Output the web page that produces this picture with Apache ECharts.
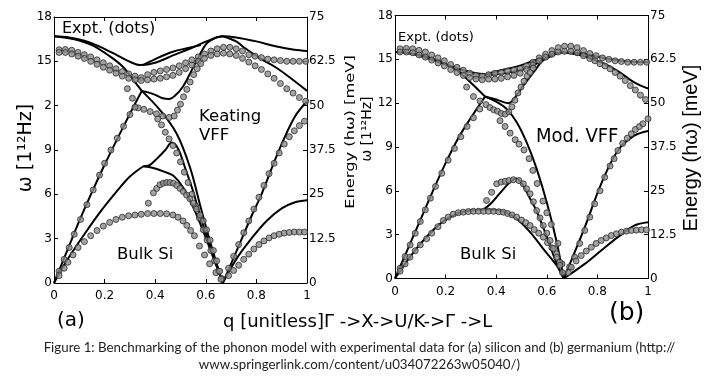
<!DOCTYPE html>
<html><head><meta charset="utf-8">
<script src="https://cdn.jsdelivr.net/npm/echarts/dist/echarts.min.js"></script>
<style>html,body{margin:0;padding:0;background:#fff}#c{width:719px;height:380px}</style>
</head><body><div id="c"></div>
<script>
// ---------- tick labels ----------
const qTicks = ['0','0.2','0.4','0.6','0.8','1'];
const wTicksA = ['0','3','6','9','2','15','18'];
const wTicksB = ['0','3','6','9','12','15','18'];
const eTicks = ['0','12.5','25','37.5','50','62.5','75'];

// ---------- (a) Silicon, Keating VFF model lines [q, omega THz] ----------
const siLineTO1 = [[0,16.7],[0.06,16.62],[0.12,16.4],[0.18,16.0],[0.24,15.5],[0.29,15.05],[0.34,14.75],[0.4,14.9],[0.47,15.4],[0.55,15.95],[0.61,16.4],[0.667,16.7],[0.72,16.62],[0.8,16.35],[0.88,16.0],[0.95,15.78],[1,15.7]];
const siLineTO2 = [[0.35,14.72],[0.4,15.15],[0.47,15.65],[0.53,15.9],[0.58,16.1]];
const siLineLO1 = [[0,16.7],[0.08,16.5],[0.15,16.1],[0.22,15.35],[0.274,14.6],[0.313,13.75],[0.347,13.0]];
const siLineLO2 = [[0.347,13.0],[0.39,12.8],[0.43,12.5],[0.455,12.45],[0.48,12.7],[0.51,13.3],[0.537,14.15],[0.564,15.05],[0.603,16.2],[0.64,16.6],[0.667,16.7]];
const siLineLA1 = [[0,0],[0.05,2.1],[0.1,4.2],[0.15,6.15],[0.2,8.0],[0.25,9.75],[0.3,11.45],[0.347,13.0]];
const siLineLA2 = [[0.347,13.0],[0.419,11.7],[0.485,10.1],[0.538,7.8],[0.577,5.3],[0.617,2.8],[0.645,1.2],[0.667,0]];
const siLineTA1 = [[0,0],[0.05,1.5],[0.116,3.2],[0.18,4.75],[0.248,6.2],[0.3,7.2],[0.353,7.9]];
const siLineTA2 = [[0.353,7.9],[0.375,7.95],[0.406,8.4],[0.44,9.0],[0.465,9.5],[0.49,9.1],[0.52,7.7],[0.55,6.2],[0.58,4.4],[0.62,2.4],[0.667,0]];
const siLineTA3 = [[0.353,7.9],[0.4,7.75],[0.44,7.5],[0.472,7.25],[0.511,6.45],[0.551,5.1],[0.59,3.5],[0.63,1.7],[0.667,0]];
const siLineL_LO = [[0.667,16.7],[0.72,16.35],[0.754,15.9],[0.82,15.15],[0.885,14.5],[0.94,13.8],[1,13.0]];
const siLineL_LA = [[0.667,0],[0.72,2.1],[0.78,4.5],[0.82,6.0],[0.885,8.8],[0.95,11.2],[1,12.3]];
const siLineL_TA = [[0.667,0],[0.72,1.6],[0.78,3.0],[0.84,4.2],[0.9,5.05],[0.95,5.45],[1,5.6]];

// ---------- (a) Silicon experimental dots ----------
const siDotsTO1 = [[0.02,15.78],[0.045,15.8],[0.07,15.75],[0.095,15.6],[0.12,15.45],[0.145,15.3],[0.17,15.1],[0.195,14.9],[0.22,14.7],[0.245,14.5],[0.27,14.3],[0.295,14.15],[0.32,14.0],[0.345,13.9],
  [0.37,14.1],[0.395,14.25],[0.42,14.35],[0.445,14.45],[0.47,14.55],[0.495,14.7],[0.52,14.9],[0.545,15.1],[0.57,15.3],[0.595,15.5],[0.62,15.7],[0.645,15.85],[0.67,15.95],[0.695,15.95],[0.72,15.85],[0.745,15.7],
  [0.77,15.45],[0.795,15.35],[0.82,15.25],[0.845,15.15],[0.87,15.1],[0.895,15.05],[0.92,15.0],[0.945,15.0],[0.97,15.0],[0.995,15.0]];
const siDotsTO2 = [[0.02,15.6],[0.045,15.6],[0.07,15.5],[0.095,15.35],[0.12,15.2],[0.145,15.0],[0.17,14.8],[0.195,14.6],[0.22,14.4],[0.245,14.2],[0.27,14.0],[0.295,13.85],[0.32,13.75],[0.345,13.7],
  [0.37,13.75],[0.395,13.8],[0.42,13.85],[0.445,13.95],[0.47,14.05],[0.495,14.25],[0.52,14.5],[0.545,14.75],[0.57,15.0],[0.595,15.2],[0.62,15.4],[0.645,15.5],[0.67,15.55],[0.695,15.5],[0.72,15.4],
  [0.745,15.2],[0.77,14.95],[0.795,14.7],[0.82,14.45],[0.845,14.15],[0.87,13.85],[0.895,13.5],[0.92,13.15],[0.945,12.85],[0.97,12.55],[0.995,12.3]];
const siDotsLO = [[0.29,13.15],[0.31,12.5],[0.333,11.85],[0.355,11.75],[0.38,11.6],[0.405,11.45],[0.43,11.3],[0.455,11.2],[0.475,11.3],[0.488,11.7],[0.5,12.1],[0.512,12.6],[0.525,13.1],[0.538,13.6],[0.552,14.1],[0.566,14.5],[0.58,14.85]];
const siDotsLA1 = [[0.02,0.8],[0.04,1.6],[0.06,2.4],[0.08,3.3],[0.105,4.3],[0.13,5.3],[0.155,6.3],[0.18,7.3],[0.2,8.1],[0.225,9.0],[0.25,9.8],[0.275,10.6],[0.3,11.4],[0.32,11.9]];
const siDotsLA2 = [[0.41,11.1],[0.425,10.7],[0.44,10.2],[0.455,9.75],[0.47,9.3],[0.485,8.8],[0.5,8.2],[0.515,7.5],[0.53,6.8],[0.545,6.0],[0.56,5.2],[0.575,4.4],[0.59,3.6],[0.605,2.9],[0.62,2.2],[0.635,1.5],[0.65,0.8],[0.663,0.3]];
const siDotsTA1 = [[0.02,0.5],[0.04,1.0],[0.055,1.4],[0.075,1.9],[0.095,2.4],[0.12,2.8],[0.145,3.2],[0.17,3.55],[0.195,3.85],[0.22,4.1],[0.245,4.3],[0.27,4.45],[0.295,4.55],[0.32,4.6],[0.345,4.65],[0.37,4.7],[0.395,4.7],[0.42,4.7],[0.445,4.68],[0.47,4.6],[0.49,4.45],[0.51,4.2],[0.525,3.9],[0.54,3.55],[0.555,3.2],[0.575,2.5],[0.595,1.9],[0.615,1.3],[0.64,0.7],[0.66,0.25]];
const siDotsTA2 = [[0.373,5.4],[0.393,6.1],[0.406,6.4],[0.419,6.65],[0.432,6.75],[0.445,6.8],[0.458,6.8],[0.472,6.75],[0.485,6.6],[0.498,6.4],[0.511,6.2],[0.524,5.95],[0.537,5.7],[0.55,5.4],[0.563,5.0],[0.577,4.6],[0.59,4.2],[0.603,3.6],[0.617,2.9],[0.63,2.2],[0.643,1.5],[0.655,0.8]];
const siDotsL_LA = [[0.69,1.0],[0.71,1.8],[0.73,2.6],[0.75,3.4],[0.77,4.2],[0.79,5.0],[0.81,5.8],[0.83,6.6],[0.85,7.4],[0.87,8.1],[0.89,8.8],[0.91,9.4],[0.93,9.9],[0.95,10.3],[0.97,10.65],[0.99,10.95]];
const siDotsL_TA = [[0.69,0.5],[0.71,0.85],[0.73,1.2],[0.75,1.6],[0.77,1.95],[0.79,2.3],[0.81,2.6],[0.83,2.85],[0.85,3.05],[0.87,3.2],[0.89,3.3],[0.91,3.38],[0.93,3.42],[0.95,3.45],[0.97,3.45],[0.99,3.45]];

// ---------- (b) Germanium, modified VFF model lines ----------
const geLineTO1 = [[0,15.5],[0.06,15.4],[0.125,15.1],[0.2,14.65],[0.26,14.3],[0.32,14.05],[0.38,13.95],[0.45,14.1],[0.52,14.4],[0.58,14.9],[0.626,15.3],[0.667,15.48],[0.72,15.45],[0.784,15.25],[0.85,15.0],[0.92,14.85],[1,14.8]];
const geLineTO2 = [[0.36,14.0],[0.42,14.25],[0.48,14.5],[0.54,14.85],[0.6,15.2],[0.64,15.4]];
const geLineLO1 = [[0,15.5],[0.1,15.3],[0.18,14.85],[0.244,14.25],[0.3,13.4],[0.356,12.45]];
const geLineLO2 = [[0.356,12.45],[0.4,12.25],[0.448,12.0],[0.475,12.4],[0.507,13.2],[0.547,14.1],[0.586,14.95],[0.625,15.35],[0.667,15.48]];
const geLineLA1 = [[0,0],[0.05,2.0],[0.1,4.0],[0.15,6.0],[0.2,7.9],[0.25,9.6],[0.3,11.0],[0.356,12.45]];
const geLineLA2 = [[0.356,12.45],[0.4,12.1],[0.441,11.6],[0.481,10.7],[0.52,9.33],[0.56,7.5],[0.6,5.2],[0.639,2.5],[0.667,0]];
const geLineTA1 = [[0,0],[0.059,1.46],[0.112,2.6],[0.178,3.74],[0.244,4.43],[0.31,4.68],[0.36,4.72],[0.415,4.65],[0.481,4.08],[0.534,3.17],[0.586,2.03],[0.639,0.89],[0.667,0]];
const geLineTA2 = [[0.35,4.72],[0.38,5.15],[0.42,5.95],[0.455,6.6],[0.478,6.85],[0.5,6.55],[0.53,5.6],[0.56,4.6],[0.6,2.85],[0.635,1.2],[0.667,0]];
const geLineL_LO = [[0.667,15.48],[0.75,15.2],[0.82,14.75],[0.881,14.2],[0.947,13.4],[1,13.0]];
const geLineL_LA = [[0.667,0],[0.75,3.5],[0.815,6.48],[0.881,8.76],[0.947,9.79],[1,10.1]];
const geLineL_TA = [[0.667,0],[0.75,1.0],[0.815,1.92],[0.881,2.83],[0.947,3.63],[1,3.85]];

// ---------- (b) Germanium experimental dots ----------
const geDotsTO1 = [[0.02,15.72],[0.045,15.75],[0.07,15.72],[0.095,15.62],[0.12,15.5],[0.145,15.3],[0.17,15.1],[0.195,14.9],[0.22,14.65],[0.245,14.45],[0.27,14.25],[0.295,14.05],[0.32,13.9],[0.345,13.85],
  [0.37,13.95],[0.395,14.05],[0.42,14.1],[0.445,14.2],[0.47,14.25],[0.495,14.35],[0.52,14.55],[0.545,14.8],[0.57,15.1],[0.595,15.35],[0.62,15.6],[0.645,15.8],[0.67,15.9],[0.695,15.9],[0.72,15.8],[0.745,15.6],
  [0.77,15.4],[0.795,15.25],[0.82,15.1],[0.845,15.0],[0.87,14.9],[0.895,14.85],[0.92,14.8],[0.945,14.8],[0.97,14.8],[0.995,14.8]];
const geDotsTO2 = [[0.02,15.5],[0.045,15.5],[0.07,15.45],[0.095,15.3],[0.12,15.15],[0.145,14.95],[0.17,14.75],[0.195,14.55],[0.22,14.3],[0.245,14.1],[0.27,13.9],[0.295,13.75],[0.32,13.65],[0.345,13.6],
  [0.37,13.65],[0.395,13.65],[0.42,13.7],[0.445,13.8],[0.47,13.9],[0.495,14.05],[0.52,14.3],[0.545,14.6],[0.57,14.9],[0.595,15.15],[0.62,15.35],[0.645,15.5],[0.67,15.55],[0.695,15.55],[0.72,15.45],
  [0.745,15.25],[0.77,15.05],[0.79,14.9],[0.81,14.7],[0.83,14.55],[0.85,14.35],[0.87,14.1],[0.89,13.85],[0.91,13.55],[0.93,13.2],[0.95,12.9],[0.97,12.55],[0.99,12.25]];
const geDotsLO = [[0.283,13.1],[0.31,12.45],[0.336,12.15],[0.36,11.9],[0.375,11.7],[0.39,11.55],[0.405,11.45],[0.42,11.3],[0.435,11.25],[0.45,11.4],[0.462,11.75],[0.474,12.2],[0.486,12.7],[0.498,13.1],[0.51,13.5],[0.522,13.85],[0.534,14.1],[0.546,14.4]];
const geDotsLA1 = [[0.02,0.7],[0.04,1.5],[0.06,2.3],[0.08,3.1],[0.1,3.9],[0.12,4.7],[0.14,5.5],[0.16,6.3],[0.185,7.2],[0.21,8.1],[0.235,8.9],[0.26,9.7],[0.285,10.4],[0.31,11.0],[0.335,11.6]];
const geDotsLA2 = [[0.415,10.8],[0.435,10.4],[0.455,9.95],[0.475,9.5],[0.49,9.2],[0.51,8.8],[0.53,8.2],[0.545,7.4],[0.562,6.5],[0.585,5.3],[0.6,4.5],[0.618,3.7],[0.644,2.4],[0.66,1.0]];
const geDotsTA1 = [[0.02,0.5],[0.04,1.0],[0.059,1.46],[0.08,1.9],[0.1,2.3],[0.125,2.72],[0.145,3.1],[0.17,3.55],[0.191,3.97],[0.21,4.2],[0.23,4.4],[0.25,4.5],[0.27,4.54],[0.29,4.58],[0.31,4.6],[0.33,4.6],[0.35,4.6],[0.37,4.6],[0.39,4.6],[0.41,4.57],[0.428,4.54],[0.445,4.45],[0.463,4.35],[0.481,4.2],[0.5,4.0],[0.517,3.82],[0.534,3.63],[0.55,3.35],[0.568,3.1],[0.586,2.83],[0.603,2.45],[0.62,2.1],[0.639,1.69],[0.652,1.1],[0.662,0.4]];
const geDotsTA2 = [[0.362,5.34],[0.382,5.9],[0.402,6.48],[0.42,6.6],[0.435,6.65],[0.45,6.7],[0.468,6.76],[0.49,6.7],[0.507,6.48],[0.52,6.15],[0.534,5.8],[0.547,5.25],[0.56,4.65],[0.573,4.15],[0.586,3.63],[0.6,3.1],[0.613,2.6],[0.626,2.05],[0.639,1.46],[0.652,0.9]];
const geDotsL_LA = [[0.69,0.8],[0.71,1.46],[0.73,2.4],[0.75,3.29],[0.77,4.2],[0.789,5.11],[0.81,6.0],[0.829,6.93],[0.85,7.7],[0.866,8.2],[0.881,8.76],[0.9,9.25],[0.918,9.6],[0.934,9.9],[0.95,10.2],[0.966,10.4],[0.98,10.59],[1.0,10.93]];
const geDotsL_TA = [[0.685,0.4],[0.697,0.77],[0.716,1.2],[0.736,1.57],[0.756,1.88],[0.776,2.14],[0.795,2.4],[0.815,2.6],[0.835,2.78],[0.855,2.94],[0.875,3.06],[0.895,3.17],[0.915,3.24],[0.934,3.29],[0.954,3.31],[0.974,3.33],[0.994,3.33]];

const siLines = [siLineTO1,siLineTO2,siLineLO1,siLineLO2,siLineLA1,siLineLA2,siLineTA1,siLineTA2,siLineTA3,siLineL_LO,siLineL_LA,siLineL_TA];
const siDots = [siDotsTO1,siDotsTO2,siDotsLO,siDotsLA1,siDotsLA2,siDotsTA1,siDotsTA2,siDotsL_LA,siDotsL_TA];
const geLines = [geLineTO1,geLineTO2,geLineLO1,geLineLO2,geLineLA1,geLineLA2,geLineTA1,geLineTA2,geLineL_LO,geLineL_LA,geLineL_TA];
const geDots = [geDotsTO1,geDotsTO2,geDotsLO,geDotsLA1,geDotsLA2,geDotsTA1,geDotsTA2,geDotsL_LA,geDotsL_TA];

const FONT = 'DejaVu Sans';
function xAx(grid, pos, showLabel) {
  return {type:'value', gridIndex:grid, position:pos, min:0, max:1, interval:0.2,
    axisLine:{show:true,onZero:false,lineStyle:{color:'#000',width:1}},
    axisTick:{show:true,inside:true,length:4,lineStyle:{color:'#000'}},
    axisLabel:{show:showLabel,color:'#000',fontFamily:FONT,fontSize:12,margin:7,
      formatter:(v)=>qTicks[Math.round(v/0.2)]},
    splitLine:{show:false}};
}
function yAx(grid, pos, max, interval, labels, fs) {
  return {type:'value', gridIndex:grid, position:pos, min:0, max:max, interval:interval,
    axisLine:{show:true,onZero:false,lineStyle:{color:'#000',width:1}},
    axisTick:{show:true,inside:true,length:4,lineStyle:{color:'#000'}},
    axisLabel:{color:'#000',fontFamily:FONT,fontSize:fs,margin:2,
      formatter:(v)=>labels[Math.round(v/interval)]},
    splitLine:{show:false}};
}
const series = [];
function addLines(arrs, xi, yi) {
  arrs.forEach(d => series.push({type:'line', xAxisIndex:xi, yAxisIndex:yi, data:d, showSymbol:false,
    smooth:0.35, lineStyle:{color:'#000',width:2}, z:2, silent:true}));
}
function addDots(arrs, xi, yi) {
  arrs.forEach(d => series.push({type:'scatter', xAxisIndex:xi, yAxisIndex:yi, data:d, symbol:'circle', symbolSize:6,
    itemStyle:{color:'#8c8c8c',borderColor:'#2a2a2a',borderWidth:1}, z:3, silent:true}));
}
addLines(siLines,0,0); addDots(siDots,0,0);
addLines(geLines,2,2); addDots(geDots,2,2);

function txt(x,y,text,fs,opts) {
  opts = opts || {};
  return {type:'text', x:x, y:y, rotation:opts.rot||0, scaleX:opts.sx||1, scaleY:opts.sy||1, z:10,
    style:{text:text, fontSize:fs, fontFamily:opts.font||FONT, fill:opts.fill||'#000',
      align:opts.align||'left', verticalAlign:'middle', textAlign:opts.align||'left', textVerticalAlign:'middle'}};
}
const R = Math.PI/2;
const chart = echarts.init(document.getElementById('c'), null, {renderer:'canvas'});
chart.setOption({
  animation:false,
  backgroundColor:'#fff',
  grid:[{left:54,top:17,width:253,height:266},{left:395,top:15.5,width:253,height:263}],
  xAxis:[xAx(0,'bottom',true), xAx(0,'top',false), xAx(1,'bottom',true), xAx(1,'top',false)],
  yAxis:[yAx(0,'left',18,3,wTicksA,12), yAx(0,'right',75,12.5,eTicks,12),
         yAx(1,'left',18,3,wTicksB,12), yAx(1,'right',75,12.5,eTicks,12)],
  series:series,
  graphic:[
    txt(62,29,'Expt. (dots)',16),
    txt(199,117,'Keating',16.5),
    txt(199,136,'VFF',16.5),
    txt(117,255,'Bulk Si',16.5),
    txt(398,38,'Expt. (dots)',13),
    txt(536,137,'Mod. VFF',20,{font:'Liberation Sans Narrow, DejaVu Sans Condensed, sans-serif'}),
    txt(460,255,'Bulk Si',16.5),
    txt(26,148,'ω [1¹²Hz]',19,{rot:R,align:'center'}),
    txt(351,132,'Energy (hω) [meV]',13,{rot:R,align:'center',sx:1.25}),
    txt(367,129,'ω [1¹²Hz]',14,{rot:R,align:'center'}),
    txt(691,148,'Energy (hω) [meV]',20,{rot:R,align:'center',font:'Liberation Sans'}),
    txt(57,321,'(a)',20),
    txt(223,322,'q [unitless]Γ ->X->U/K->Γ ->L',18),
    txt(609,313,'(b)',25),
    txt(359.5,348,'Figure 1: Benchmarking of the phonon model with experimental data for (a) silicon and (b) germanium (http://',13.3,{font:'Lato',align:'center',fill:'#222'}),
    txt(359.5,365,'www.springerlink.com/content/u034072263w05040/)',13.3,{font:'Lato',align:'center',fill:'#222'})
  ]
});
</script></body></html>
